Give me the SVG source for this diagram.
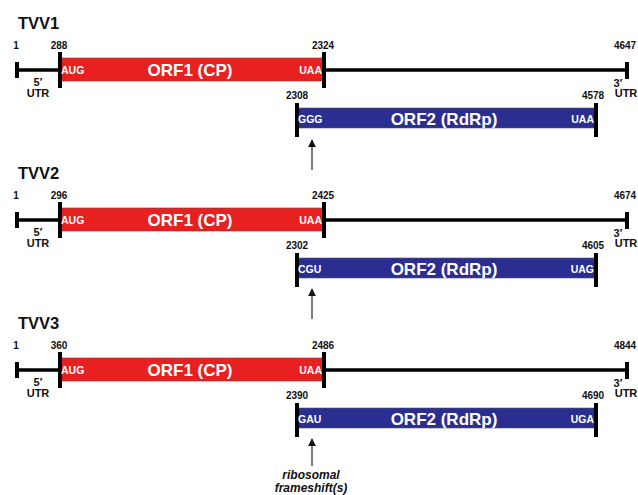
<svg xmlns="http://www.w3.org/2000/svg" width="638" height="495" viewBox="0 0 638 495">
  <defs>
    <style>
      .title { font-family: "Liberation Sans", Arial, sans-serif; font-weight: bold; font-size: 16.5px; fill: #111; }
      .num { font-family: "Liberation Sans", Arial, sans-serif; font-weight: bold; font-size: 10px; fill: #111; text-anchor: middle; }
      .utr { font-family: "Liberation Sans", Arial, sans-serif; font-weight: bold; font-size: 11px; fill: #111; text-anchor: middle; }
      .orf { font-family: "Liberation Sans", Arial, sans-serif; font-weight: bold; font-size: 17px; fill: #fff; text-anchor: middle; }
      .codon { font-family: "Liberation Sans", Arial, sans-serif; font-weight: bold; font-size: 10.5px; fill: #fff; }
      .note { font-family: "Liberation Sans", Arial, sans-serif; font-weight: bold; font-style: italic; font-size: 12px; fill: #111; text-anchor: middle; }
      .genome { stroke: #000; stroke-width: 3.5; fill: none; }
      .tick { stroke: #000; stroke-width: 4; fill: none; }
      .orf1 { fill: #e8201f; stroke: #7a3a3a; stroke-width: 0.6; }
      .orf2 { fill: #2b2e91; stroke: #555; stroke-width: 0.6; }
      .arrow { stroke: #333; stroke-width: 1.3; fill: none; marker-end: url(#head); }
    </style>
    <marker id="head" viewBox="0 0 10 10" refX="9" refY="5" markerWidth="8" markerHeight="8" markerUnits="userSpaceOnUse" orient="auto">
      <path d="M0,0 L10,5 L0,10 Z" fill="#111"/>
    </marker>

    <!-- one genome row: backbone, ORF1 box, ORF2 box, end ticks -->
    <g id="row">
      <line class="genome" x1="17" y1="70" x2="627" y2="70"/>
      <rect class="orf1" x="60" y="58" width="264" height="23"/>
      <rect class="orf2" x="297" y="108" width="299" height="20"/>
      <line class="tick" x1="17" y1="62" x2="17" y2="78"/>
      <line class="tick" x1="627" y1="62" x2="627" y2="79"/>
      <line class="tick" x1="60" y1="52" x2="60" y2="88"/>
      <line class="tick" x1="324" y1="52" x2="324" y2="88"/>
      <line class="tick" x1="297" y1="103" x2="297" y2="137"/>
      <line class="tick" x1="596" y1="103" x2="596" y2="137"/>
      <text class="orf" x="190" y="76">ORF1 (CP)</text>
      <text class="orf" x="444" y="125">ORF2 (RdRp)</text>
      <text class="codon" x="61" y="74">AUG</text>
      <text class="codon" x="322" y="74" text-anchor="end">UAA</text>
      <text class="utr" x="38" y="86">5′</text>
      <text class="utr" x="38" y="97">UTR</text>
      <text class="utr" x="618" y="87">3′</text>
      <text class="utr" x="626" y="97">UTR</text>
      <text class="num" x="16" y="49">1</text>
    </g>
  </defs>

  <!-- TVV1 -->
  <g id="tvv1">
    <text class="title" x="18" y="29">TVV1</text>
    <use href="#row"/>
    <text class="num" x="59" y="49">288</text>
    <text class="num" x="323" y="49">2324</text>
    <text class="num" x="625" y="49">4647</text>
    <text class="num" x="297" y="99">2308</text>
    <text class="num" x="593" y="99">4578</text>
    <text class="codon" x="298" y="123">GGG</text>
    <text class="codon" x="594" y="123" text-anchor="end">UAA</text>
  </g>

  <!-- TVV2 -->
  <g id="tvv2" transform="translate(0,150)">
    <text class="title" x="18" y="29">TVV2</text>
    <use href="#row"/>
    <text class="num" x="59" y="49">296</text>
    <text class="num" x="323" y="49">2425</text>
    <text class="num" x="625" y="49">4674</text>
    <text class="num" x="297" y="99">2302</text>
    <text class="num" x="593" y="99">4605</text>
    <text class="codon" x="298" y="123">CGU</text>
    <text class="codon" x="594" y="123" text-anchor="end">UAG</text>
  </g>

  <!-- TVV3 -->
  <g id="tvv3" transform="translate(0,300)">
    <text class="title" x="18" y="29">TVV3</text>
    <use href="#row"/>
    <text class="num" x="59" y="49">360</text>
    <text class="num" x="323" y="49">2486</text>
    <text class="num" x="625" y="49">4844</text>
    <text class="num" x="297" y="99">2390</text>
    <text class="num" x="593" y="99">4690</text>
    <text class="codon" x="298" y="123">GAU</text>
    <text class="codon" x="594" y="123" text-anchor="end">UGA</text>
  </g>

  <!-- frameshift label -->
  <g id="frameshift">
    <text class="note" x="311" y="479">ribosomal</text>
    <text class="note" x="311" y="492">frameshift(s)</text>
  </g>

  <!-- frameshift site arrows -->
  <g id="connectors">
    <line class="arrow" x1="312" y1="170" x2="312" y2="140"/>
    <line class="arrow" x1="312" y1="319" x2="312" y2="289"/>
    <line class="arrow" x1="312" y1="466" x2="312" y2="439"/>
  </g>
</svg>
